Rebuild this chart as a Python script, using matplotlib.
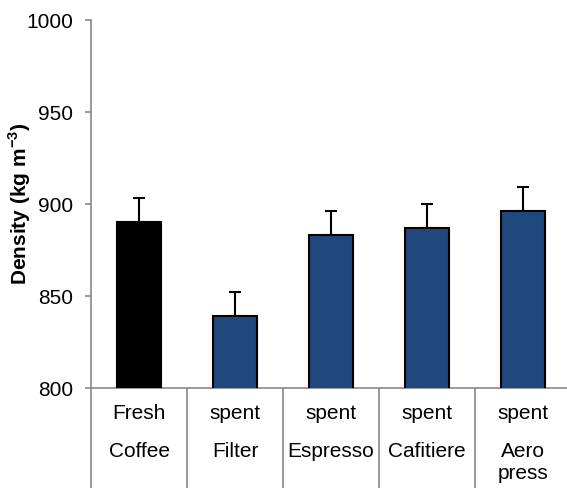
import matplotlib
matplotlib.use('Agg')
import matplotlib.pyplot as plt
import numpy as np

plt.rcParams['font.family'] = ['Liberation Sans', 'DejaVu Sans']
plt.rcParams['mathtext.fontset'] = 'custom'
plt.rcParams['mathtext.rm'] = 'Liberation Sans'
plt.rcParams['mathtext.bf'] = 'Liberation Sans:bold'

top_labels = ['Fresh', 'spent', 'spent', 'spent', 'spent']
bottom_labels = ['Coffee', 'Filter', 'Espresso', 'Cafitiere', 'Aero\npress']
density = [890, 839, 883, 887, 896]
density_err = [13, 13, 13, 13, 13]
bar_colors = ['#000000', '#1F497D', '#1F497D', '#1F497D', '#1F497D']

GREY = '#888888'
FS = 15

fig = plt.figure(figsize=(5.67, 4.88), dpi=100)
ax = fig.add_axes([91 / 567, 100 / 488, 480 / 567, 368 / 488])

x = np.arange(len(density))
ax.errorbar(x, density, yerr=[np.zeros(len(x)), density_err], fmt='none',
            ecolor='black', elinewidth=1.5, capsize=4, capthick=1.5, zorder=2)
ax.bar(x, density, width=0.46, color=bar_colors, edgecolor='black',
       linewidth=1.5, zorder=3)

ax.set_xlim(-0.5, len(x) - 0.5)
ax.set_ylim(800, 1000)
ax.set_yticks([800, 850, 900, 950, 1000])

for s in ['top', 'right']:
    ax.spines[s].set_visible(False)
for s in ['left', 'bottom']:
    ax.spines[s].set_color(GREY)
    ax.spines[s].set_linewidth(1.2)

ax.tick_params(axis='y', direction='out', length=4, width=1.2, color=GREY,
               labelsize=FS, pad=9)
ax.set_xticks([])

ax.set_ylabel(r'Density (kg m$^{\mathbf{-3}}$)', fontsize=FS, fontweight='bold')
ax.yaxis.set_label_coords(-0.12, 0.5)

# category separators (Excel multi-level axis look)
trans = ax.get_xaxis_transform()
for edge in np.arange(len(x) + 1) - 0.5:
    ax.plot([edge, edge], [0, -0.3], color=GREY, lw=1.2, transform=trans,
            clip_on=False)

for i in x:
    ax.text(i, -0.068, top_labels[i], ha='center', va='center', fontsize=FS,
            transform=trans)
    ax.text(i, -0.148, bottom_labels[i], ha='center', va='top', fontsize=FS,
            linespacing=1.2, transform=trans)

fig.savefig('out.png', dpi=100)
